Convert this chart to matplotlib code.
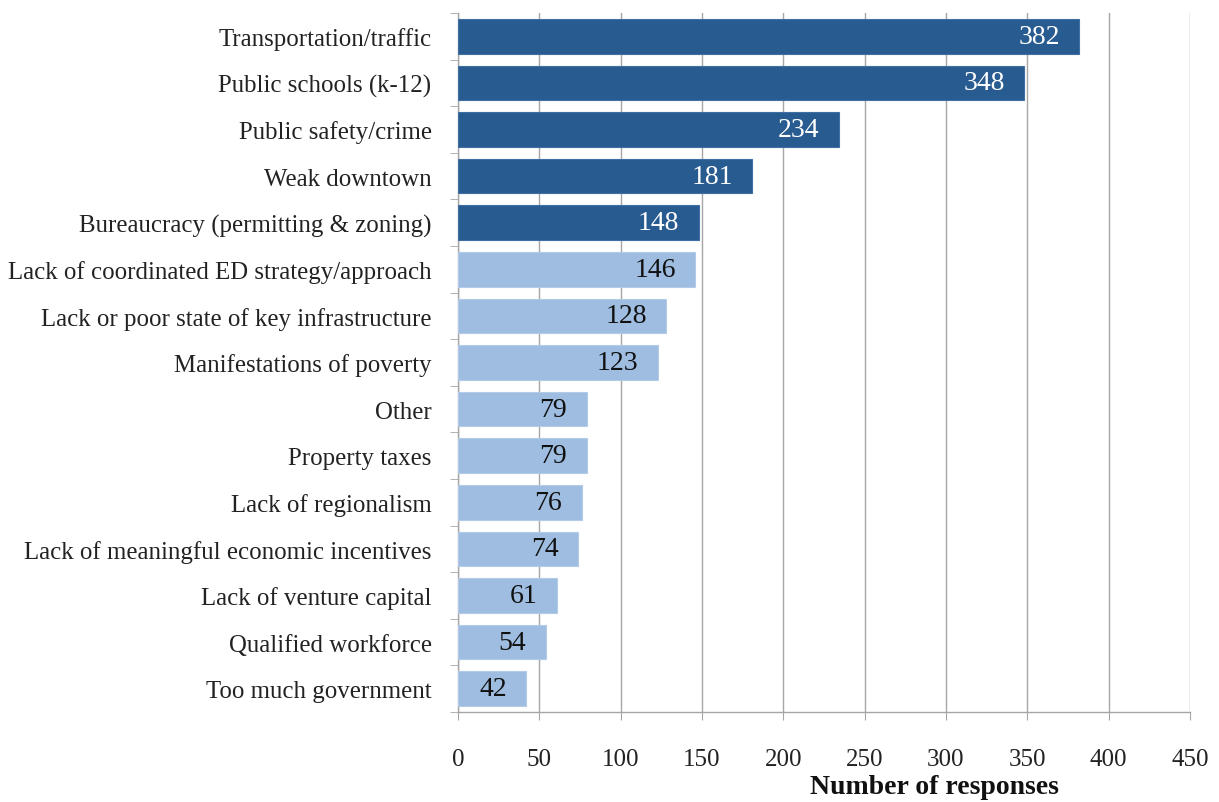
import matplotlib
matplotlib.use("Agg")
import matplotlib.pyplot as plt
import numpy as np

categories = [
    "Transportation/traffic",
    "Public schools (k-12)",
    "Public safety/crime",
    "Weak downtown",
    "Bureaucracy (permitting & zoning)",
    "Lack of coordinated ED strategy/approach",
    "Lack or poor state of key infrastructure",
    "Manifestations of poverty",
    "Other",
    "Property taxes",
    "Lack of regionalism",
    "Lack of meaningful economic incentives",
    "Lack of venture capital",
    "Qualified workforce",
    "Too much government",
]
responses = [382, 348, 234, 181, 148, 146, 128, 123, 79, 79, 76, 74, 61, 54, 42]
top_group = [True] * 5 + [False] * 10
x_ticks = [0, 50, 100, 150, 200, 250, 300, 350, 400, 450]

dark = "#285B90"
light = "#9EBDE0"
grid_c = "#A6A6A6"
font = "Liberation Serif"

fig = plt.figure(figsize=(12.19, 8.03), dpi=100)
ax = fig.add_axes([458 / 1219, 1 - 713 / 803, (1190 - 458) / 1219, (713 - 14) / 803])

n = len(categories)
ypos = np.arange(n)
colors = [dark if t else light for t in top_group]
bars = ax.barh(ypos, responses, height=0.74, color=colors,
               edgecolor=["#3F6FA3" if t else "#B3CBE8" for t in top_group],
               linewidth=0.8, zorder=3)

for b, v, t in zip(bars, responses, top_group):
    ax.text(v - 12, b.get_y() + b.get_height() / 2, str(v),
            ha="right", va="center", fontsize=20, family=font,
            color="white" if t else "#111111", zorder=4)

ax.set_xlim(0, 450)
ax.set_ylim(n - 0.5, -0.5)
ax.set_xticks(x_ticks)
ax.set_xticklabels([str(t) for t in x_ticks], family=font, fontsize=18, color="#222222")
ax.set_yticks(ypos)
ax.set_yticklabels(categories, family=font, fontsize=17.9, color="#222222")
ax.tick_params(axis="y", length=0, pad=19)
ax.set_yticks(np.arange(-0.5, n, 1), minor=True)
ax.tick_params(axis="y", which="minor", length=6, color=grid_c, direction="out")
ax.tick_params(axis="x", length=6, color=grid_c, direction="out", pad=20)

ax.xaxis.grid(True, color=grid_c, linewidth=1.0, zorder=0)
ax.set_axisbelow(True)
for s in ["top", "right"]:
    ax.spines[s].set_visible(False)
for s in ["left", "bottom"]:
    ax.spines[s].set_color(grid_c)
    ax.spines[s].set_linewidth(1.0)

fig.text(934 / 1219, 1 - 788 / 803, "Number of responses", ha="center", va="center",
         family=font, fontsize=20, fontweight="bold", color="#111111")

fig.savefig("out.png", dpi=100, facecolor="white")
